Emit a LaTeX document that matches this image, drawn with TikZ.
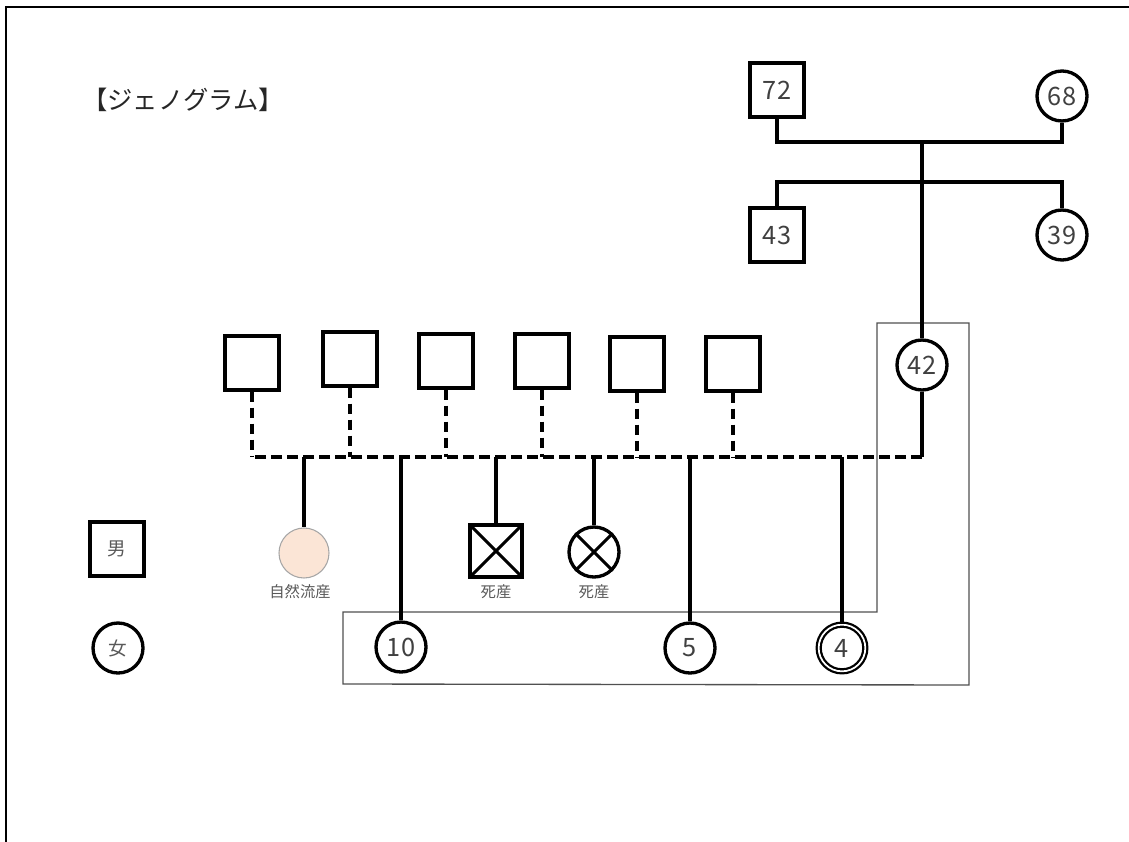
\documentclass[tikz,border=0pt]{standalone}
\usepackage{fontspec}
\setmainfont{Noto Sans CJK JP}
\newfontfamily\jp{Noto Sans CJK JP}
\definecolor{txtgray}{HTML}{404040}
\definecolor{lblgray}{HTML}{595959}
\definecolor{peach}{HTML}{FBE5D6}
\definecolor{boxgray}{HTML}{505050}
\tikzset{
  line/.style={line width=2.5pt},
  sq/.style={draw, line width=2.5pt, rectangle, minimum size=40.5pt, inner sep=0pt,
    text=txtgray, font=\jp\fontsize{19}{21}\selectfont},
  ci/.style={draw, line width=2.5pt, circle, minimum size=37.5pt, inner sep=0pt,
    text=txtgray, font=\jp\fontsize{19}{21}\selectfont},
  dsh/.style={line width=2.5pt, dash pattern=on 8pt off 4pt},
  lbl/.style={text=lblgray, font=\jp\fontsize{11.5}{13}\selectfont, inner sep=0pt},
  legend/.style={text=lblgray, font=\jp\fontsize{14}{16}\selectfont},
}
\begin{document}
\begin{tikzpicture}[x=0.75pt,y=-0.75pt]
\useasboundingbox (0,0) rectangle (1129,842);

% page frame
\draw[line width=1.8pt] (6,842) -- (6,7) -- (1129,7);

% household outline
\draw[boxgray, line width=1pt] (877,323) -- (969,323) -- (969,685) -- (343,684)
  -- (343,612) -- (877,612) -- cycle;

% title
\node[font=\jp\fontsize{19}{21}\selectfont, text=black!85] (title) at (183,100) {【ジェノグラム】};

% grandparents and siblings
\node[sq] (f72) at (777,90) {72};
\node[ci] (m68) at (1062,96) {68};
\node[sq] (b43) at (777,235) {43};
\node[ci] (s39) at (1062,235) {39};
\node[ci] (p42) at (922,365) {42};

\coordinate (mar) at (922,142);
\coordinate (sib) at (922,182);
\draw[line] (f72.south) |- (mar) -| (m68.south);
\draw[line] (b43.north) |- (sib) -| (s39.north);
\draw[line] (mar) -- (p42.north);

% partners
\node[sq] (pa1) at (252,363) {};
\node[sq] (pa2) at (350,359) {};
\node[sq] (pa3) at (446,361) {};
\node[sq] (pa4) at (542,361) {};
\node[sq] (pa5) at (637,364) {};
\node[sq] (pa6) at (733,364) {};

\coordinate (lEnd) at (252,457);
\coordinate (rEnd) at (922,457);
\draw[line] (p42.south) -- (rEnd);
\draw[dsh] (rEnd) -- (lEnd);
\foreach \i in {1,...,6}{
  \draw[dsh] (pa\i.south) -- (pa\i.south |- lEnd);
}

% children
\node[circle, draw=gray!70, line width=0.8pt, fill=peach, minimum size=37.5pt] (mc) at (304,553) {};
\node[lbl] (mcl) at (300,592) {自然流産};
\node[sq, minimum size=39pt, path picture={
  \draw[line width=2.3pt] (path picture bounding box.north west) -- (path picture bounding box.south east)
                          (path picture bounding box.north east) -- (path picture bounding box.south west);}]
  (sb1) at (496,551) {};
\node[lbl] (sb1l) at (496,592) {死産};
\node[ci] (sb2) at (594,552) {};
\draw[line width=2.3pt] (sb2.45) -- (sb2.225) (sb2.135) -- (sb2.315);
\node[lbl] (sb2l) at (594,592) {死産};

\node[ci] (c10) at (401,647) {10};
\node[ci] (c5) at (690,648) {5};
\node[ci, line width=1.7pt, double=white, double distance=1.3pt, minimum size=35pt] (c4) at (842,648) {4};

\foreach \c in {mc,c10,sb1,sb2,c5,c4}{
  \draw[line] (\c.north |- lEnd) -- (\c.north);
}

% legend
\node[sq, legend, minimum size=40.5pt] (lm) at (117,549) {男};
\node[ci, legend] (lf) at (118,648) {女};
\end{tikzpicture}
\end{document}
